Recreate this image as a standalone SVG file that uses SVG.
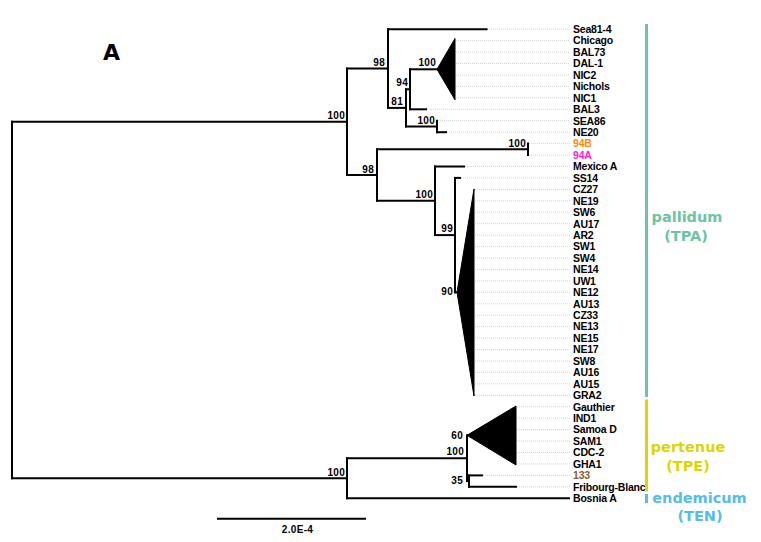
<svg xmlns="http://www.w3.org/2000/svg" width="761" height="542" viewBox="0 0 761 542">
<style>
.br{stroke:#000;stroke-width:2;fill:none;stroke-linecap:square}
.gd{stroke:#d4d4d4;stroke-width:1;stroke-dasharray:1 1}
.lf{font-family:"Liberation Sans",Arial,sans-serif;font-weight:bold;font-size:10.5px;letter-spacing:-0.2px;fill:#000}
.bs{font-family:"Liberation Sans",Arial,sans-serif;font-weight:bold;font-size:10px;fill:#000;text-anchor:end;letter-spacing:0.3px}
.grp{font-family:"DejaVu Sans",sans-serif;font-weight:bold;font-size:14.5px;text-anchor:middle}
.tri{fill:#000;stroke:#000;stroke-width:1}
</style>
<rect width="761" height="542" fill="#fff"/>
<text x="103" y="59.5" font-family="DejaVu Sans,sans-serif" font-weight="bold" font-size="22">A</text>

<g id="guides">
<line class="gd" x1="487" y1="29.2" x2="570" y2="29.2"/>
<line class="gd" x1="456" y1="40.6" x2="570" y2="40.6"/>
<line class="gd" x1="456" y1="52.1" x2="570" y2="52.1"/>
<line class="gd" x1="456" y1="63.5" x2="570" y2="63.5"/>
<line class="gd" x1="456" y1="75" x2="570" y2="75"/>
<line class="gd" x1="456" y1="86.4" x2="570" y2="86.4"/>
<line class="gd" x1="456" y1="97.8" x2="570" y2="97.8"/>
<line class="gd" x1="427" y1="109.3" x2="570" y2="109.3"/>
<line class="gd" x1="438" y1="120.7" x2="570" y2="120.7"/>
<line class="gd" x1="447" y1="132.2" x2="570" y2="132.2"/>
<line class="gd" x1="529" y1="143.6" x2="570" y2="143.6"/>
<line class="gd" x1="529" y1="155" x2="570" y2="155"/>
<line class="gd" x1="465" y1="166.5" x2="570" y2="166.5"/>
<line class="gd" x1="461" y1="177.9" x2="570" y2="177.9"/>
<line class="gd" x1="475" y1="189.4" x2="570" y2="189.4"/>
<line class="gd" x1="475" y1="200.8" x2="570" y2="200.8"/>
<line class="gd" x1="475" y1="212.2" x2="570" y2="212.2"/>
<line class="gd" x1="475" y1="223.7" x2="570" y2="223.7"/>
<line class="gd" x1="475" y1="235.1" x2="570" y2="235.1"/>
<line class="gd" x1="475" y1="246.6" x2="570" y2="246.6"/>
<line class="gd" x1="475" y1="258" x2="570" y2="258"/>
<line class="gd" x1="475" y1="269.4" x2="570" y2="269.4"/>
<line class="gd" x1="475" y1="280.9" x2="570" y2="280.9"/>
<line class="gd" x1="475" y1="292.3" x2="570" y2="292.3"/>
<line class="gd" x1="475" y1="303.8" x2="570" y2="303.8"/>
<line class="gd" x1="475" y1="315.2" x2="570" y2="315.2"/>
<line class="gd" x1="475" y1="326.6" x2="570" y2="326.6"/>
<line class="gd" x1="475" y1="338.1" x2="570" y2="338.1"/>
<line class="gd" x1="475" y1="349.5" x2="570" y2="349.5"/>
<line class="gd" x1="475" y1="361" x2="570" y2="361"/>
<line class="gd" x1="475" y1="372.4" x2="570" y2="372.4"/>
<line class="gd" x1="475" y1="383.8" x2="570" y2="383.8"/>
<line class="gd" x1="475" y1="395.3" x2="570" y2="395.3"/>
<line class="gd" x1="517" y1="406.7" x2="570" y2="406.7"/>
<line class="gd" x1="517" y1="418.2" x2="570" y2="418.2"/>
<line class="gd" x1="517" y1="429.6" x2="570" y2="429.6"/>
<line class="gd" x1="517" y1="441" x2="570" y2="441"/>
<line class="gd" x1="517" y1="452.5" x2="570" y2="452.5"/>
<line class="gd" x1="517" y1="463.9" x2="570" y2="463.9"/>
<line class="gd" x1="483" y1="475.4" x2="570" y2="475.4"/>
<line class="gd" x1="517" y1="486.8" x2="570" y2="486.8"/>
</g>

<g id="connectors">
<path class="br" d="M12,121.8V478.2"/>
<path class="br" d="M12,121.8H347"/>
<path class="br" d="M347,68.5V175"/>
<path class="br" d="M347,68.5H388"/>
<path class="br" d="M388,29.2V107.9"/>
<path class="br" d="M388,29.2H486.5"/>
<path class="br" d="M388,107.9H406"/>
<path class="br" d="M406,89.3V126.4"/>
<path class="br" d="M406,89.3H410"/>
<path class="br" d="M410,69.3V109.3"/>
<path class="br" d="M410,69.3H437"/>
<path class="br" d="M410,109.3H426"/>
<path class="br" d="M406,126.4H437"/>
<path class="br" d="M437,120.7V132.2"/>
<path class="br" d="M437,132.2H446"/>
<path class="br" d="M347,175H377"/>
<path class="br" d="M377,149.3V200.8"/>
<path class="br" d="M377,149.3H528"/>
<path class="br" d="M528,143.6V155"/>
<path class="br" d="M377,200.8H435"/>
<path class="br" d="M435,166.5V235.1"/>
<path class="br" d="M435,166.5H464"/>
<path class="br" d="M435,235.1H455"/>
<path class="br" d="M455,177.9V292.3"/>
<path class="br" d="M455,177.9H460"/>
<path class="br" d="M455,292.3H457"/>
<path class="br" d="M12,478.2H347"/>
<path class="br" d="M347,458.2V498.2"/>
<path class="br" d="M347,498.2H569"/>
<path class="br" d="M347,458.2H467"/>
<path class="br" d="M467,435.3V481.1"/>
<path class="br" d="M467,481.1H469"/>
<path class="br" d="M469,475.4V486.8"/>
<path class="br" d="M469,475.4H482"/>
<path class="br" d="M469,486.8H516"/>
</g>

<g id="clade-chicago"><polygon class="tri" points="437,69.3 455,38.5 455,99.8"/></g>
<g id="clade-cz27"><polygon class="tri" points="457,292.3 474,189 474,396"/></g>
<g id="clade-gauthier"><polygon class="tri" points="467,435.3 516,406 516,465"/></g>

<g id="bootstrap">
<text class="bs" x="345" y="118.5">100</text>
<text class="bs" x="385" y="65.5">98</text>
<text class="bs" x="436" y="66">100</text>
<text class="bs" x="408" y="86">94</text>
<text class="bs" x="403" y="105">81</text>
<text class="bs" x="435" y="123.5">100</text>
<text class="bs" x="526" y="146.5">100</text>
<text class="bs" x="374" y="172.5">98</text>
<text class="bs" x="433" y="197.5">100</text>
<text class="bs" x="453" y="232">99</text>
<text class="bs" x="453" y="295">90</text>
<text class="bs" x="463" y="439">60</text>
<text class="bs" x="464" y="455">100</text>
<text class="bs" x="463" y="483.5">35</text>
<text class="bs" x="345" y="475.5">100</text>
</g>

<g id="leaves">
<g id="n-sea81-4"><text class="lf" x="573" y="33">Sea81-4</text></g>
<g id="n-chicago"><text class="lf" x="573" y="44.4">Chicago</text></g>
<g id="n-bal73"><text class="lf" x="573" y="55.9">BAL73</text></g>
<g id="n-dal-1"><text class="lf" x="573" y="67.3">DAL-1</text></g>
<g id="n-nic2"><text class="lf" x="573" y="78.8">NIC2</text></g>
<g id="n-nichols"><text class="lf" x="573" y="90.2">Nichols</text></g>
<g id="n-nic1"><text class="lf" x="573" y="101.6">NIC1</text></g>
<g id="n-bal3"><text class="lf" x="573" y="113.1">BAL3</text></g>
<g id="n-sea86"><text class="lf" x="573" y="124.5">SEA86</text></g>
<g id="n-ne20"><text class="lf" x="573" y="136">NE20</text></g>
<g id="n-94b"><text class="lf" x="573" y="147.4" style="fill:#ff8a10">94B</text></g>
<g id="n-94a"><text class="lf" x="573" y="158.8" style="fill:#ff22cc">94A</text></g>
<g id="n-mexico-a"><text class="lf" x="573" y="170.3">Mexico A</text></g>
<g id="n-ss14"><text class="lf" x="573" y="181.7">SS14</text></g>
<g id="n-cz27"><text class="lf" x="573" y="193.2">CZ27</text></g>
<g id="n-ne19"><text class="lf" x="573" y="204.6">NE19</text></g>
<g id="n-sw6"><text class="lf" x="573" y="216">SW6</text></g>
<g id="n-au17"><text class="lf" x="573" y="227.5">AU17</text></g>
<g id="n-ar2"><text class="lf" x="573" y="238.9">AR2</text></g>
<g id="n-sw1"><text class="lf" x="573" y="250.4">SW1</text></g>
<g id="n-sw4"><text class="lf" x="573" y="261.8">SW4</text></g>
<g id="n-ne14"><text class="lf" x="573" y="273.2">NE14</text></g>
<g id="n-uw1"><text class="lf" x="573" y="284.7">UW1</text></g>
<g id="n-ne12"><text class="lf" x="573" y="296.1">NE12</text></g>
<g id="n-au13"><text class="lf" x="573" y="307.6">AU13</text></g>
<g id="n-cz33"><text class="lf" x="573" y="319">CZ33</text></g>
<g id="n-ne13"><text class="lf" x="573" y="330.4">NE13</text></g>
<g id="n-ne15"><text class="lf" x="573" y="341.9">NE15</text></g>
<g id="n-ne17"><text class="lf" x="573" y="353.3">NE17</text></g>
<g id="n-sw8"><text class="lf" x="573" y="364.8">SW8</text></g>
<g id="n-au16"><text class="lf" x="573" y="376.2">AU16</text></g>
<g id="n-au15"><text class="lf" x="573" y="387.6">AU15</text></g>
<g id="n-gra2"><text class="lf" x="573" y="399.1">GRA2</text></g>
<g id="n-gauthier"><text class="lf" x="573" y="410.5">Gauthier</text></g>
<g id="n-ind1"><text class="lf" x="573" y="422">IND1</text></g>
<g id="n-samoa-d"><text class="lf" x="573" y="433.4">Samoa D</text></g>
<g id="n-sam1"><text class="lf" x="573" y="444.8">SAM1</text></g>
<g id="n-cdc-2"><text class="lf" x="573" y="456.3">CDC-2</text></g>
<g id="n-gha1"><text class="lf" x="573" y="467.7">GHA1</text></g>
<g id="n-133"><text class="lf" x="573" y="479.2" style="fill:#8b5a2b">133</text></g>
<g id="n-fribourg-blanc"><text class="lf" x="573" y="490.6">Fribourg-Blanc</text></g>
<g id="n-bosnia-a"><text class="lf" x="573" y="502">Bosnia A</text></g>
</g>

<g id="group-tpa">
<rect x="645" y="24" width="3" height="373" fill="#6cc4a4"/>
<text class="grp" x="687" y="222" fill="#6cc4a4">pallidum</text>
<text class="grp" x="686" y="240.5" fill="#6cc4a4">(TPA)</text>
</g>
<g id="group-tpe">
<rect x="645" y="399.5" width="3" height="92" fill="#ded500"/>
<text class="grp" x="688" y="452" fill="#ded500">pertenue</text>
<text class="grp" x="688" y="471" fill="#ded500">(TPE)</text>
</g>
<g id="group-ten">
<rect x="645" y="494" width="3" height="9" fill="#55bde8"/>
<text class="grp" x="699.5" y="503" fill="#55bde8">endemicum</text>
<text class="grp" x="700" y="521" fill="#55bde8">(TEN)</text>
</g>

<g id="scale">
<line x1="217" y1="518.7" x2="366" y2="518.7" stroke="#000" stroke-width="2"/>
<text x="297.5" y="533" font-family="Liberation Sans,Arial,sans-serif" font-weight="bold" font-size="10" text-anchor="middle" letter-spacing="0.3">2.0E-4</text>
</g>
</svg>
